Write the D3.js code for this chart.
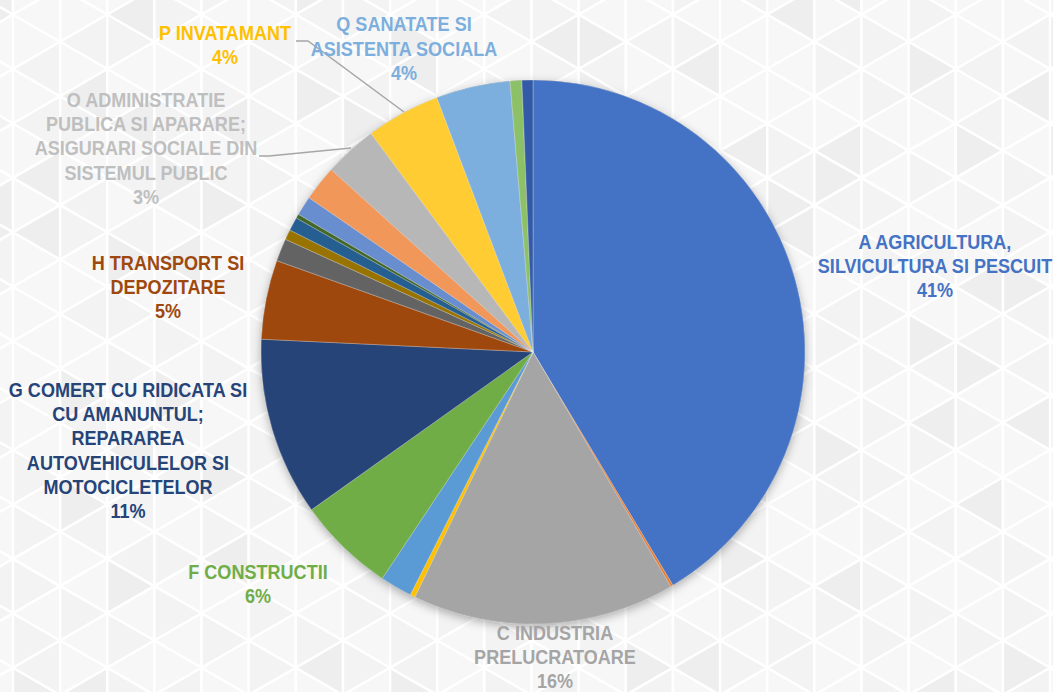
<!DOCTYPE html>
<html>
<head>
<meta charset="utf-8">
<script src="https://cdn.jsdelivr.net/npm/d3@7"></script>
<style>
  html, body { margin: 0; padding: 0; background: #f5f5f5; }
  svg { display: block; }
  .lbl { font-family: "Liberation Sans Narrow", "Arial Narrow", "Liberation Sans", Arial, sans-serif; font-weight: bold; font-size: 21px; }
</style>
</head>
<body>
<svg id="chart" width="1053" height="692"></svg>
<script>
// Employment structure by CAEN section (share of total)
const codes = ["A","B","C","D","E","F","G","H","I","J","K","L","M","N","O","P","Q","R","S"];
const names = [
  "AGRICULTURA, SILVICULTURA SI PESCUIT",
  "INDUSTRIA EXTRACTIVA",
  "INDUSTRIA PRELUCRATOARE",
  "PRODUCTIA SI FURNIZAREA DE ENERGIE ELECTRICA SI TERMICA, GAZE, APA CALDA SI AER CONDITIONAT",
  "DISTRIBUTIA APEI; SALUBRITATE, GESTIONAREA DESEURILOR, ACTIVITATI DE DECONTAMINARE",
  "CONSTRUCTII",
  "COMERT CU RIDICATA SI CU AMANUNTUL; REPARAREA AUTOVEHICULELOR SI MOTOCICLETELOR",
  "TRANSPORT SI DEPOZITARE",
  "HOTELURI SI RESTAURANTE",
  "INFORMATII SI COMUNICATII",
  "INTERMEDIERI FINANCIARE SI ASIGURARI",
  "TRANZACTII IMOBILIARE",
  "ACTIVITATI PROFESIONALE, STIINTIFICE SI TEHNICE",
  "ACTIVITATI DE SERVICII ADMINISTRATIVE SI ACTIVITATI DE SERVICII SUPORT",
  "ADMINISTRATIE PUBLICA SI APARARE; ASIGURARI SOCIALE DIN SISTEMUL PUBLIC",
  "INVATAMANT",
  "SANATATE SI ASISTENTA SOCIALA",
  "ACTIVITATI DE SPECTACOLE, CULTURALE SI RECREATIVE",
  "ALTE ACTIVITATI DE SERVICII"
];
const shares = [41.4, 0.15, 15.6, 0.3, 1.9, 5.8, 10.6, 4.7, 1.35, 0.6, 0.8, 0.25, 1.15, 2.1, 3.15, 4.4, 4.4, 0.7, 0.65];

// Wrapped label text for the sections that carry a data label
const labelCodes = ["A","C","F","G","H","O","P","Q"];
const labelLines = [
  ["A AGRICULTURA,", "SILVICULTURA SI PESCUIT"],
  ["C INDUSTRIA", "PRELUCRATOARE"],
  ["F CONSTRUCTII"],
  ["G COMERT CU RIDICATA SI", "CU AMANUNTUL;", "REPARAREA", "AUTOVEHICULELOR SI", "MOTOCICLETELOR"],
  ["H TRANSPORT SI", "DEPOZITARE"],
  ["O ADMINISTRATIE", "PUBLICA SI APARARE;", "ASIGURARI SOCIALE DIN", "SISTEMUL PUBLIC"],
  ["P INVATAMANT"],
  ["Q SANATATE SI", "ASISTENTA SOCIALA"]
];

// Office-style series palette
const palette = ["#4472C4","#ED7D31","#A5A5A5","#FFC000","#5B9BD5","#70AD47",
                 "#264478","#9E480E","#636363","#997300","#255E91","#43682B",
                 "#698ED0","#F1975A","#B7B7B7","#FFCD33","#7CAFDD","#8CC168","#335AA6"];
const labelColor = { A:"#4472C4", C:"#A5A5A5", F:"#70AD47", G:"#264478", H:"#9E480E",
                     O:"#BFBFBF", P:"#FFC000", Q:"#7CAFDD" };

// Label anchor (centre x, first baseline y) and optional leader polylines
const labelPos = { A:[935,249], C:[555,639.6], F:[258,579], G:[128,397], H:[168,270],
                   O:[146,107], P:[225,40], Q:[404,31.5] };
const leaders = { O:[[259,156],[269,156],[351,148]], P:[[296,41],[308,41],[404,112]] };

const W = 1053, H = 692;
const svg = d3.select("#chart");
const defs = svg.append("defs");

// ---- background: soft triangular lattice ----
const bg = svg.append("g");
bg.append("rect").attr("width", W).attr("height", H).attr("fill", "#f5f5f5");
const colW = 47.14, rowH = 54.43, half = rowH / 2, x0 = 13, y0 = 41.8;
const colX = i => x0 + colW * i;
const vy = (i, k) => y0 + ((((i % 2) + 2) % 2) === 1 ? 0 : half) + rowH * k;
const tris = [];
for (let i = -1; i <= 22; i++) {
  for (let k = -2; k <= 14; k++) {
    const a = vy(i, k);
    tris.push({ i, k, t: 0, pts: [[colX(i), a], [colX(i), a + rowH], [colX(i + 1), a + half]] });
    const b = vy(i + 1, k);
    tris.push({ i, k, t: 1, pts: [[colX(i + 1), b], [colX(i + 1), b + rowH], [colX(i), b + half]] });
  }
}
const shadeOf = d => {
  const h = Math.abs((d.i * 7919 + d.k * 104729 + d.t * 3571 + d.i * d.k * 31) % 13);
  return h < 7 ? "#f7f7f7" : (h < 11 ? "#f3f3f3" : "#eeeeee");
};
bg.selectAll("polygon").data(tris).join("polygon")
  .attr("points", d => d.pts.map(p => p.join(",")).join(" "))
  .attr("fill", shadeOf)
  .attr("stroke", "#ffffff").attr("stroke-width", 2.4)
  .attr("stroke-linejoin", "round");

// ---- pie ----
const cx = 533, cy = 352, R = 272;
const shadow = defs.append("filter").attr("id", "pieShadow")
  .attr("x", "-20%").attr("y", "-20%").attr("width", "140%").attr("height", "140%");
shadow.append("feDropShadow").attr("dx", 0).attr("dy", 3).attr("stdDeviation", 5)
  .attr("flood-color", "#000").attr("flood-opacity", 0.3);

const rows = codes.map((c, i) => ({ code: c, name: names[i], value: shares[i], color: palette[i] }));
const total = d3.sum(shares);
const pie = d3.pie().sort(null).value(d => d.value).startAngle(0).endAngle(2 * Math.PI);
const arcs = pie(rows);
const arc = d3.arc().innerRadius(0).outerRadius(R);

const pieG = svg.append("g").attr("transform", `translate(${cx},${cy})`);
pieG.append("circle").attr("r", R).attr("fill", "#888").attr("filter", "url(#pieShadow)");
pieG.selectAll("path.slice").data(arcs).join("path")
  .attr("class", "slice")
  .attr("d", arc)
  .attr("fill", d => d.data.color)
  .attr("stroke", "rgba(255,255,255,0.45)")
  .attr("stroke-width", 0.6)
  .attr("stroke-linejoin", "round");

// ---- leader lines ----
const lineGen = d3.line();
svg.append("g").selectAll("path").data(Object.keys(leaders)).join("path")
  .attr("d", k => lineGen(leaders[k]))
  .attr("fill", "none").attr("stroke", "#A6A6A6").attr("stroke-width", 1.5);

// ---- data labels (condensed bold face) ----
const lineH = 24.2;
const narrow = 0.86;
const lblG = svg.append("g");
labelCodes.forEach((code, j) => {
  const row = rows.find(r => r.code === code);
  const pct = Math.round(row.value / total * 100) + "%";
  const lines = labelLines[j].concat([pct]);
  const [lx, ly] = labelPos[code];
  const t = lblG.append("text").attr("class", "lbl")
    .attr("transform", `translate(${lx},0) scale(${narrow},1)`)
    .attr("text-anchor", "middle").attr("fill", labelColor[code]);
  lines.forEach((s, n) => {
    t.append("tspan").attr("x", 0).attr("y", ly + n * lineH).text(s);
  });
});
</script>
</body>
</html>
